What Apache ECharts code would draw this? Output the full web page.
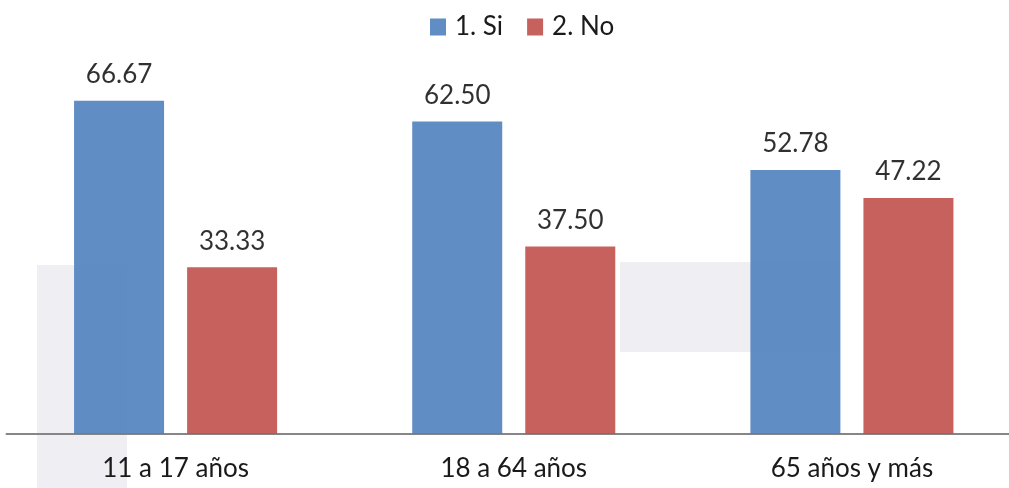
<!DOCTYPE html>
<html>
<head>
<meta charset="utf-8">
<script src="https://cdn.jsdelivr.net/npm/echarts@6/dist/echarts.min.js"></script>
<style>
  html, body { margin: 0; padding: 0; background: #fff; overflow: hidden; }
  /* el gráfico original está recortado por la derecha */
  #chart { width: 1021px; height: 488px; }
</style>
</head>
<body>
<div id="chart"></div>
<script>
// datos del gráfico
const categories = ['11 a 17 años', '18 a 64 años', '65 años y más'];
const serieSi = [66.67, 62.50, 52.78];
const serieNo = [33.33, 37.50, 47.22];
const seriesNames = ['1. Si', '2. No'];

const chart = echarts.init(document.getElementById('chart'));

const labelStyle = {
    show: true,
    position: 'top',
    distance: 13,
    color: '#1a1a1a',
    fontSize: 26,
    fontFamily: 'Lato',
    formatter: p => p.value.toFixed(2)
};

const option = {
    animation: false,
    textStyle: { fontFamily: 'Lato' },
    // marca de agua tenue del fondo
    graphic: [
        { type: 'rect', z: 0, shape: { x: 37, y: 265, width: 90, height: 223 }, style: { fill: '#eeeef3' } },
        { type: 'rect', z: 0, shape: { x: 620, y: 262, width: 220, height: 90 }, style: { fill: '#eeeef3' } }
    ],
    legend: {
        top: 9,
        left: 425,
        icon: 'rect',
        itemWidth: 16,
        itemHeight: 17,
        itemGap: 24,
        textStyle: { fontSize: 26, color: '#1a1a1a', fontFamily: 'Lato', padding: [0, 0, 0, 4] },
        data: seriesNames
    },
    grid: { left: 6.5, top: 34, right: 0, bottom: 54, containLabel: false },
    xAxis: {
        type: 'category',
        data: categories,
        axisLine: { lineStyle: { color: '#868686', width: 2 } },
        axisTick: { show: false },
        axisLabel: { color: '#1a1a1a', fontSize: 26, margin: 22, fontFamily: 'Lato' }
    },
    yAxis: {
        type: 'value',
        min: 0,
        max: 80,
        show: false,
        splitLine: { show: false }
    },
    series: [
        {
            name: seriesNames[0],
            type: 'bar',
            data: serieSi,
            barWidth: 90,
            barGap: '25.6%',
            itemStyle: { color: '#4F81BD', opacity: 0.9 },
            label: labelStyle
        },
        {
            name: seriesNames[1],
            type: 'bar',
            data: serieNo,
            barWidth: 90,
            itemStyle: { color: '#C0504D', opacity: 0.9 },
            label: labelStyle
        }
    ]
};

chart.setOption(option);
window.addEventListener('resize', () => chart.resize());
</script>
</body>
</html>
